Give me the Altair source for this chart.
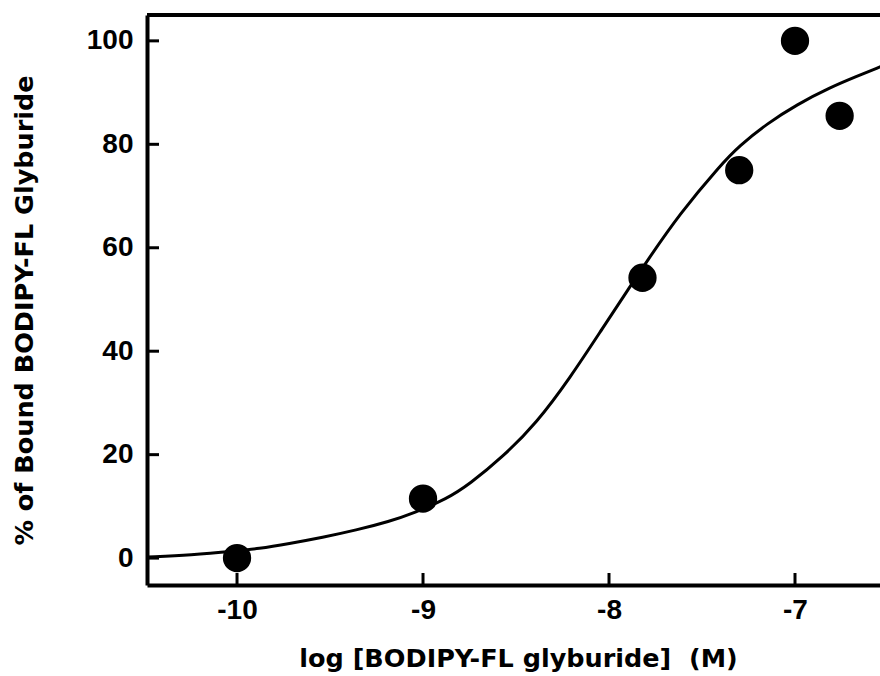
import altair as alt
import pandas as pd

# Measured data points (log concentration, % bound)
conc_log = [-10.0, -9.0, -7.82, -7.30, -7.0, -6.76]
bound_pct = [0.0, 11.5, 54.2, 75.0, 100.0, 85.5]

# Fitted curve
fit_x = [-10.48, -10.25, -10.0, -9.89, -9.72, -9.54, -9.36, -9.18, -9.05,
         -8.87, -8.75, -8.57, -8.39, -8.21, -8.03, -7.89, -7.80, -7.62,
         -7.40, -7.30, -7.15, -6.99, -6.81, -6.67, -6.54]
fit_y = [0.2, 0.6, 1.4, 1.8, 2.8, 4.0, 5.4, 7.1, 8.7,
         11.5, 14.3, 19.6, 26.1, 34.8, 44.7, 52.3, 57.2, 66.6,
         76.0, 79.7, 84.0, 87.7, 91.0, 93.1, 95.0]

y_ticks = [0, 20, 40, 60, 80, 100]
x_ticks = [-10, -9, -8, -7]

X_DOMAIN = [-10.484, -6.543]
Y_DOMAIN = [-5.2, 105.0]

PLOT_W = 733
PLOT_H = 570

pts = pd.DataFrame({"logc": conc_log, "pct": bound_pct})
fit = pd.DataFrame({"logc": fit_x, "pct": fit_y})
yt = pd.DataFrame({"pct": y_ticks})
xt = pd.DataFrame({"logc": x_ticks})

xs = alt.Scale(domain=X_DOMAIN, nice=False, zero=False)
ys = alt.Scale(domain=Y_DOMAIN, nice=False, zero=False)

x_axis = alt.Axis(
    values=x_ticks, title="log [BODIPY-FL glyburide]\u00a0 (M)", grid=False,
    ticks=False, tickSize=0, domainColor="black", domainWidth=4,
    labelFont="Liberation Sans", labelFontSize=28, labelFontWeight="bold",
    labelColor="black", labelPadding=11, labelFlush=False, labelOverlap=False,
    labelExpr="'' + datum.value",
    titleFont="DejaVu Sans", titleFontSize=25.5, titleFontWeight="bold",
    titleColor="black", titleX=371, titleY=73, titleBaseline="middle",
    titleAlign="center",
)
y_axis = alt.Axis(
    values=y_ticks, title="% of Bound BODIPY-FL Glyburide", grid=False,
    ticks=False, tickSize=0, domainColor="black", domainWidth=4,
    labelFont="Liberation Sans", labelFontSize=28, labelFontWeight="bold",
    labelColor="black", labelPadding=14, labelFlush=False, labelOverlap=False,
    labelExpr="'' + datum.value",
    titleFont="DejaVu Sans", titleFontSize=25.5, titleFontWeight="bold",
    titleColor="black", titleX=-123, titleY=295, titleBaseline="middle",
    titleAlign="center", titleAngle=270,
)

X = alt.X("logc:Q", scale=xs, axis=x_axis)
Y = alt.Y("pct:Q", scale=ys, axis=y_axis)

curve = alt.Chart(fit).mark_line(color="black", strokeWidth=3, interpolate="basis").encode(
    x=X, y=Y,
)

dots = alt.Chart(pts).mark_circle(color="black", size=800, opacity=1).encode(
    x=X, y=Y,
)

ytick_marks = alt.Chart(yt).mark_rule(color="black", strokeWidth=3).encode(
    y=Y,
    x=alt.value(0),
    x2=alt.value(12),
)

xtick_marks = alt.Chart(xt).mark_rule(color="black", strokeWidth=3).encode(
    x=X,
    y=alt.value(PLOT_H),
    y2=alt.value(PLOT_H - 12),
)

top_border = alt.Chart(yt).mark_rule(color="black", strokeWidth=4).encode(
    x=alt.value(0),
    x2=alt.value(PLOT_W),
    y=alt.value(0),
)

chart = alt.layer(curve, dots, ytick_marks, xtick_marks, top_border).properties(
    width=PLOT_W,
    height=PLOT_H,
    padding={"left": 147, "top": 15, "right": 0, "bottom": 91},
    autosize=alt.AutoSizeParams(type="none"),
    background="white",
).configure_view(strokeWidth=0)

chart.save("out.html", embed_options={"renderer": "svg", "actions": False})
